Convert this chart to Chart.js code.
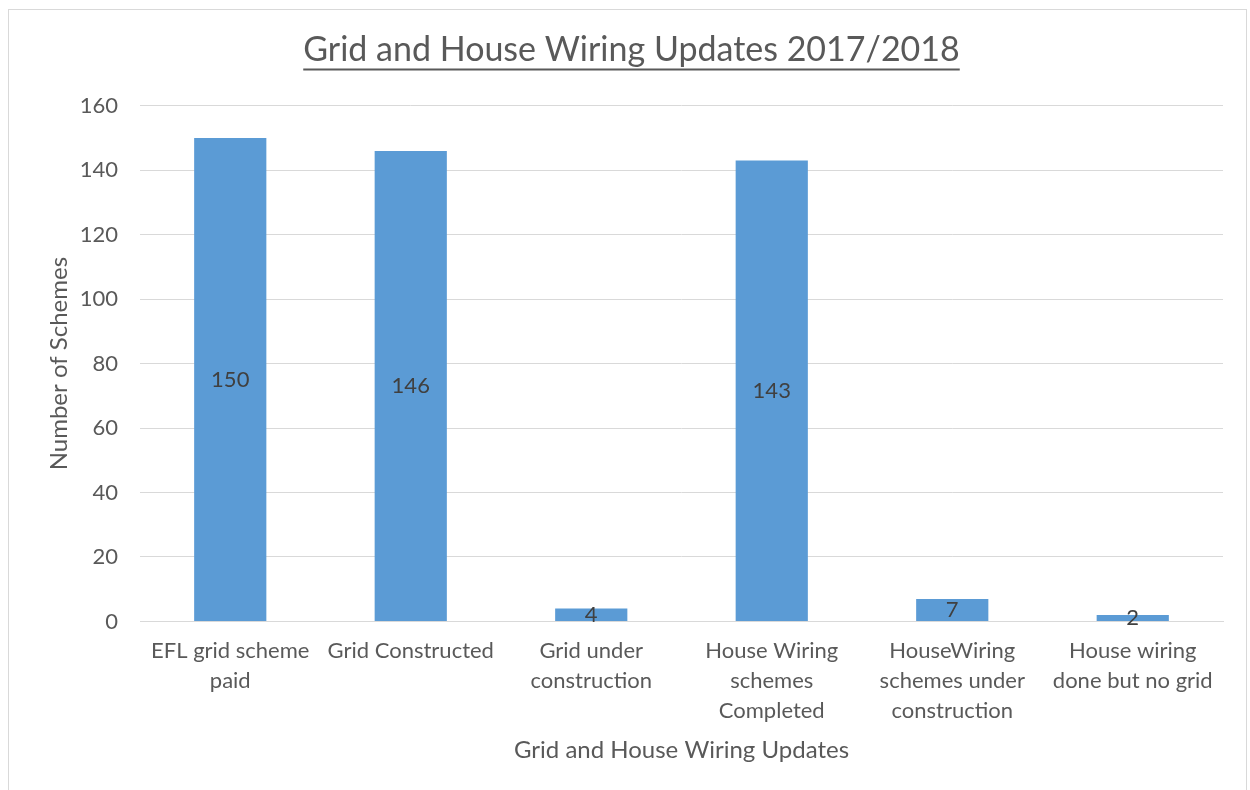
<!DOCTYPE html>
<html>
<head>
<meta charset="utf-8">
<script src="https://cdn.jsdelivr.net/npm/chart.js@4"></script>
<style>
  html, body { margin: 0; padding: 0; background: #fff; }
  #frame { position: absolute; left: 8px; top: 9px; width: 1239px; height: 800px; border: 1px solid #d9d9d9; box-sizing: border-box; }
  #wrap { position: absolute; left: 0; top: 0; width: 1250px; height: 790px; }
</style>
</head>
<body>
<div id="frame"></div>
<div id="wrap"><canvas id="chart"></canvas></div>
<script>
// Categories (wrapped the way the original labels wrap)
const categories = [
    ['EFL grid scheme', 'paid'],
    ['Grid Constructed'],
    ['Grid under', 'construction'],
    ['House Wiring', 'schemes', 'Completed'],
    ['HouseWiring', 'schemes under', 'construction'],
    ['House wiring', 'done but no grid']
];
const schemes = [150, 146, 4, 143, 7, 2];
const yTicks = [0, 20, 40, 60, 80, 100, 120, 140, 160];

const FONT = 'Lato, "Open Sans", sans-serif';
const TEXT = '#595959';
const TITLE_SIZE = 34;

// Values written in the middle of each bar
const barLabels = {
    id: 'barLabels',
    afterDatasetsDraw(chart) {
        const ctx = chart.ctx;
        const meta = chart.getDatasetMeta(0);
        ctx.save();
        ctx.font = '22px ' + FONT;
        ctx.fillStyle = '#404040';
        ctx.textAlign = 'center';
        ctx.textBaseline = 'middle';
        meta.data.forEach((bar, i) => {
            ctx.fillText(String(schemes[i]), bar.x, (bar.y + bar.base) / 2);
        });
        ctx.restore();
    }
};

// Underline under the chart title
const titleUnderline = {
    id: 'titleUnderline',
    afterDraw(chart) {
        const tb = chart.titleBlock;
        if (!tb) return;
        const ctx = chart.ctx;
        const text = chart.options.plugins.title.text;
        ctx.save();
        ctx.font = TITLE_SIZE + 'px ' + FONT;
        const w = ctx.measureText(text).width;
        const cx = tb.left + tb.width / 2;
        const y = tb.top + 20 + TITLE_SIZE * 0.6 + 19;
        ctx.strokeStyle = TEXT;
        ctx.lineWidth = 2;
        ctx.beginPath();
        ctx.moveTo(cx - w / 2, y);
        ctx.lineTo(cx + w / 2, y);
        ctx.stroke();
        ctx.restore();
    }
};

const ctx = document.getElementById('chart').getContext('2d');
const chart = new Chart(ctx, {
    type: 'bar',
    data: {
        labels: categories,
        datasets: [{
            label: 'Number of Schemes',
            data: schemes,
            backgroundColor: '#5b9bd5',
            barPercentage: 0.4,
            categoryPercentage: 1
        }]
    },
    options: {
        responsive: true,
        maintainAspectRatio: false,
        animation: false,
        layout: { padding: { left: 40, right: 27, top: 10, bottom: 25 } },
        plugins: {
            legend: { display: false },
            tooltip: { enabled: false },
            title: {
                display: true,
                text: 'Grid and House Wiring Updates 2017/2018',
                color: TEXT,
                font: { family: FONT, size: TITLE_SIZE, weight: 'normal' },
                padding: { top: 20, bottom: 35 }
            }
        },
        scales: {
            x: {
                afterFit(scale) { scale.height -= 15; },
                grid: { display: false, drawTicks: false },
                border: { color: '#d9d9d9', width: 1 },
                ticks: {
                    color: TEXT,
                    font: { family: FONT, size: 22, lineHeight: 1.36 },
                    maxRotation: 0,
                    autoSkip: false,
                    padding: 15
                },
                title: {
                    display: true,
                    text: 'Grid and House Wiring Updates',
                    color: TEXT,
                    font: { family: FONT, size: 24 },
                    padding: { top: 10, bottom: 0 }
                }
            },
            y: {
                min: 0,
                max: 160,
                afterFit(scale) { scale.width = 100; },
                afterBuildTicks(axis) {
                    axis.ticks = yTicks.map(v => ({ value: v }));
                },
                grid: { color: '#d9d9d9', drawTicks: false },
                border: { display: false },
                ticks: {
                    color: TEXT,
                    font: { family: FONT, size: 22 },
                    padding: 22
                },
                title: {
                    display: true,
                    text: 'Number of Schemes',
                    color: TEXT,
                    font: { family: FONT, size: 24 },
                    padding: { top: 5, bottom: 7 }
                }
            }
        }
    },
    plugins: [barLabels, titleUnderline]
});
</script>
</body>
</html>
